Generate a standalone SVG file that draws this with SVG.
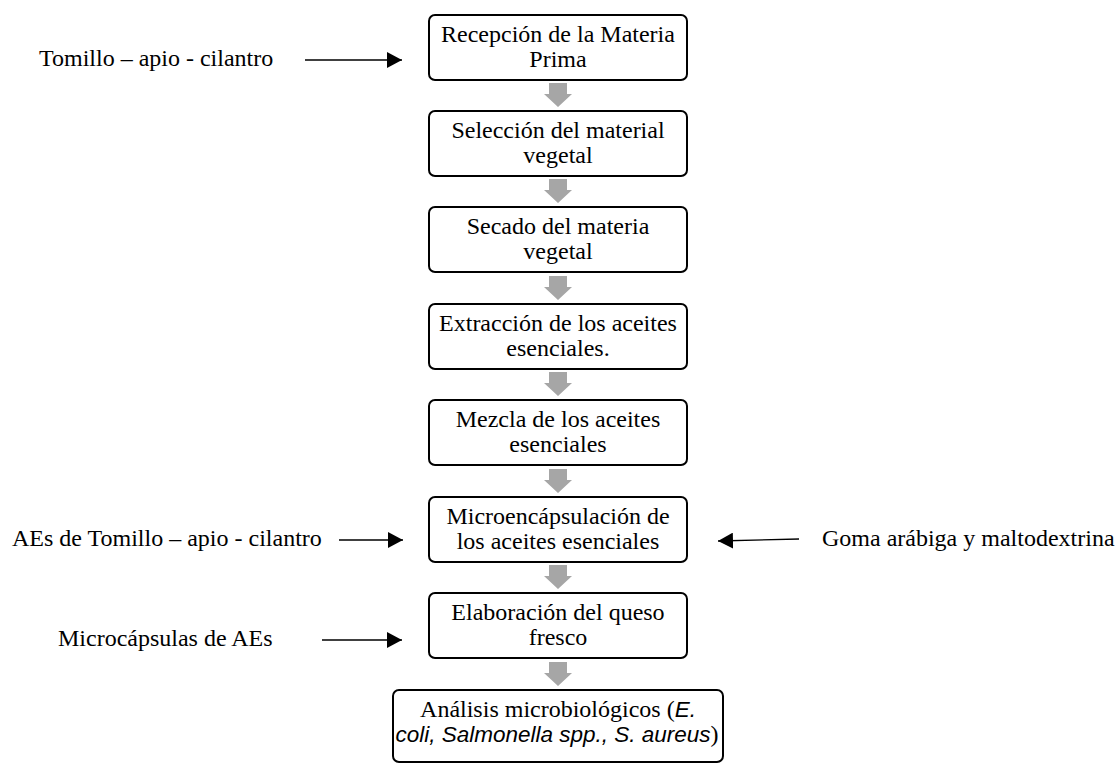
<svg xmlns="http://www.w3.org/2000/svg" width="1116" height="763" viewBox="0 0 1116 763">
<style>
.box{fill:#fff;stroke:#000;stroke-width:2}
.t{font-family:"Liberation Serif","Times New Roman",serif;font-size:24px;fill:#000}
.c{text-anchor:middle}
.it{font-family:"Liberation Sans",Arial,sans-serif;font-style:italic;font-size:22.5px}
.flow{fill:#a6a6a6}
.arr{stroke:#000;stroke-width:1.3;fill:none;marker-end:url(#ah)}
</style>
<defs>
<marker id="ah" markerUnits="userSpaceOnUse" markerWidth="16" markerHeight="16" refX="15" refY="8" orient="auto">
<path d="M0,0 L15,8 L0,16 Z" fill="#000"/>
</marker>
<polygon id="down" points="549,0 567,0 567,11 572,11 558,24 544,11 549,11"/>
</defs>
<rect width="1116" height="763" fill="#fff"/>
<g id="connectors">
<use href="#down" class="flow" y="83"/>
<use href="#down" class="flow" y="179"/>
<use href="#down" class="flow" y="276"/>
<use href="#down" class="flow" y="372"/>
<use href="#down" class="flow" y="469"/>
<use href="#down" class="flow" y="565"/>
<use href="#down" class="flow" y="662"/>
<line class="arr" x1="305" y1="60" x2="402" y2="60"/>
<line class="arr" x1="339" y1="540" x2="403" y2="540"/>
<line class="arr" x1="799" y1="539" x2="718" y2="541"/>
<line class="arr" x1="322" y1="640" x2="402" y2="640"/>
</g>
<g id="in1"><text class="t" x="39" y="66">Tomillo – apio - cilantro</text></g>
<g id="in2"><text class="t" x="12" y="546">AEs de Tomillo – apio - cilantro</text></g>
<g id="in3"><text class="t" x="822" y="546">Goma arábiga y maltodextrina</text></g>
<g id="in4"><text class="t" x="58" y="646">Microcápsulas de AEs</text></g>
<g id="n1"><rect class="box" x="429" y="15" width="258" height="65" rx="6"/>
<text class="t c" x="558" y="42">Recepción de la Materia</text><text class="t c" x="558" y="67">Prima</text></g>
<g id="n2"><rect class="box" x="429" y="111" width="258" height="65" rx="6"/>
<text class="t c" x="558" y="138">Selección del material</text><text class="t c" x="558" y="163">vegetal</text></g>
<g id="n3"><rect class="box" x="429" y="207" width="258" height="65" rx="6"/>
<text class="t c" x="558" y="234">Secado del materia</text><text class="t c" x="558" y="259">vegetal</text></g>
<g id="n4"><rect class="box" x="429" y="304" width="258" height="65" rx="6"/>
<text class="t c" x="558" y="331">Extracción de los aceites</text><text class="t c" x="558" y="356">esenciales.</text></g>
<g id="n5"><rect class="box" x="429" y="400" width="258" height="65" rx="6"/>
<text class="t c" x="558" y="427">Mezcla de los aceites</text><text class="t c" x="558" y="452">esenciales</text></g>
<g id="n6"><rect class="box" x="429" y="497" width="258" height="65" rx="6"/>
<text class="t c" x="558" y="524">Microencápsulación de</text><text class="t c" x="558" y="549">los aceites esenciales</text></g>
<g id="n7"><rect class="box" x="429" y="593" width="258" height="65" rx="6"/>
<text class="t c" x="558" y="620">Elaboración del queso</text><text class="t c" x="558" y="645">fresco</text></g>
<g id="n8"><rect class="box" x="393" y="690" width="330" height="72" rx="6"/>
<text class="t c" x="558" y="717">Análisis microbiológicos (<tspan class="it">E.</tspan></text>
<text class="t c" x="557" y="742"><tspan class="it">coli, Salmonella spp., S. aureus</tspan>)</text></g>
</svg>
